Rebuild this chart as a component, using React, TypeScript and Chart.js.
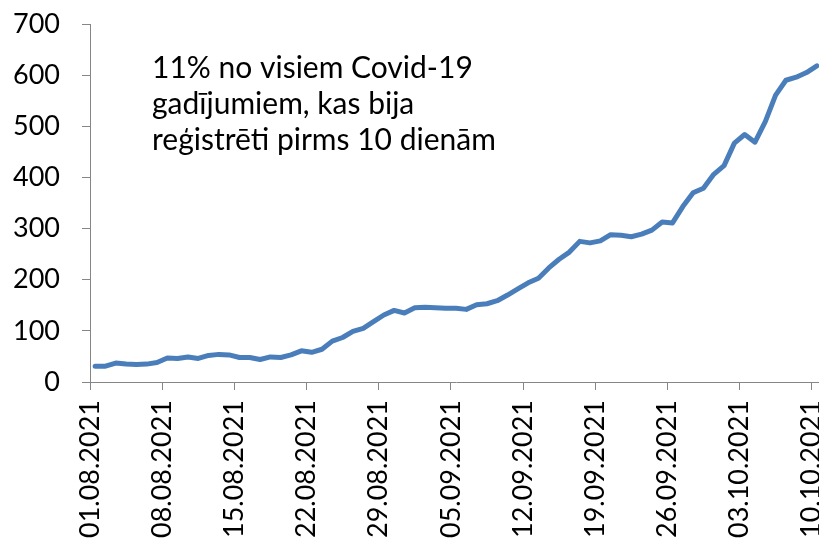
import React, { useEffect, useRef } from "react";
import { Chart, registerables } from "chart.js";

Chart.register(...registerables);

const dates = [
  "01.08.2021", "02.08.2021", "03.08.2021", "04.08.2021", "05.08.2021", "06.08.2021", "07.08.2021",
  "08.08.2021", "09.08.2021", "10.08.2021", "11.08.2021", "12.08.2021", "13.08.2021", "14.08.2021",
  "15.08.2021", "16.08.2021", "17.08.2021", "18.08.2021", "19.08.2021", "20.08.2021", "21.08.2021",
  "22.08.2021", "23.08.2021", "24.08.2021", "25.08.2021", "26.08.2021", "27.08.2021", "28.08.2021",
  "29.08.2021", "30.08.2021", "31.08.2021", "01.09.2021", "02.09.2021", "03.09.2021", "04.09.2021",
  "05.09.2021", "06.09.2021", "07.09.2021", "08.09.2021", "09.09.2021", "10.09.2021", "11.09.2021",
  "12.09.2021", "13.09.2021", "14.09.2021", "15.09.2021", "16.09.2021", "17.09.2021", "18.09.2021",
  "19.09.2021", "20.09.2021", "21.09.2021", "22.09.2021", "23.09.2021", "24.09.2021", "25.09.2021",
  "26.09.2021", "27.09.2021", "28.09.2021", "29.09.2021", "30.09.2021", "01.10.2021", "02.10.2021",
  "03.10.2021", "04.10.2021", "05.10.2021", "06.10.2021", "07.10.2021", "08.10.2021", "09.10.2021",
  "10.10.2021",
];

const cases = [
  31, 31, 37, 35, 34, 35, 38,
  47, 46, 49, 46, 52, 54, 53,
  48, 48, 44, 49, 48, 53, 61,
  58, 64, 80, 87, 99, 105, 118,
  131, 140, 135, 145, 146, 145, 144,
  144, 142, 151, 153, 159, 170, 182,
  194, 203, 223, 240, 254, 275, 272,
  276, 288, 287, 284, 289, 297, 313,
  311, 343, 370, 379, 406, 423, 467,
  484, 469, 509, 561, 590, 596, 605,
  618,
];

const xTickIndices = [0, 7, 14, 21, 28, 35, 42, 49, 56, 63, 70];
const yTicks = [0, 100, 200, 300, 400, 500, 600, 700];

const annotationLines = [
  "11% no visiem Covid-19",
  "gadījumiem, kas bija",
  "reģistrēti pirms 10 dienām",
];

const FONT = "Lato";
const AXIS_COLOR = "#868686";
const LINE_COLOR = "#4a7ebb";

export default function App() {
  const ref = useRef<HTMLCanvasElement>(null);

  useEffect(() => {
    if (!ref.current) return;
    const annotation = {
      id: "annotationText",
      afterDraw(chart: any) {
        const ctx = chart.ctx;
        ctx.save();
        ctx.font = `30px ${FONT}`;
        ctx.fillStyle = "#000";
        ctx.textAlign = "left";
        ctx.textBaseline = "alphabetic";
        annotationLines.forEach((line, i) => {
          ctx.fillText(line, 152, 78 + i * 36);
        });
        ctx.restore();
      },
    };

    const chart = new Chart(ref.current, {
      type: "line",
      data: {
        datasets: [
          {
            data: cases.map((v, i) => ({ x: i, y: v })),
            borderColor: LINE_COLOR,
            borderWidth: 5,
            pointRadius: 0,
            tension: 0,
            borderCapStyle: "round",
            borderJoinStyle: "round",
            fill: false,
          },
        ],
      },
      options: {
        responsive: false,
        animation: false,
        layout: { padding: { top: 24, left: 0, right: 0, bottom: 0 } },
        plugins: {
          legend: { display: false },
          tooltip: { enabled: false },
        },
        scales: {
          x: {
            type: "linear",
            min: -0.5,
            max: 70.5,
            afterBuildTicks: (s: any) => {
              s.ticks = xTickIndices.map((i) => ({ value: i - 0.5 }));
            },
            afterFit: (s: any) => {
              s.height = 167;
              s.paddingLeft = 0;
              s.paddingRight = 0;
            },
            grid: {
              drawOnChartArea: false,
              drawTicks: true,
              tickLength: 8,
              color: AXIS_COLOR,
            },
            border: { display: true, color: AXIS_COLOR, width: 1 },
            ticks: {
              autoSkip: false,
              maxRotation: 90,
              minRotation: 90,
              padding: 10,
              color: "#000",
              font: { family: FONT, size: 27 },
              callback: (v: any) => dates[Math.round(Number(v) + 0.5)] ?? "",
            },
          },
          y: {
            min: 0,
            max: 700,
            afterBuildTicks: (s: any) => {
              s.ticks = yTicks.map((v) => ({ value: v }));
            },
            afterFit: (s: any) => {
              s.width = 90;
              s.paddingTop = 0;
              s.paddingBottom = 0;
            },
            grid: {
              drawOnChartArea: false,
              drawTicks: true,
              tickLength: 8,
              color: AXIS_COLOR,
            },
            border: { display: true, color: AXIS_COLOR, width: 1 },
            ticks: {
              padding: 22,
              color: "#000",
              font: { family: FONT, size: 27 },
            },
          },
        },
      },
      plugins: [annotation],
    } as any);

    return () => chart.destroy();
  }, []);

  return (
    <div
      style={{
        position: "absolute",
        left: 0,
        top: 0,
        width: 819,
        height: 549,
        overflow: "hidden",
        background: "#fff",
      }}
    >
      <canvas ref={ref} width={822} height={549} style={{ display: "block" }} />
    </div>
  );
}
